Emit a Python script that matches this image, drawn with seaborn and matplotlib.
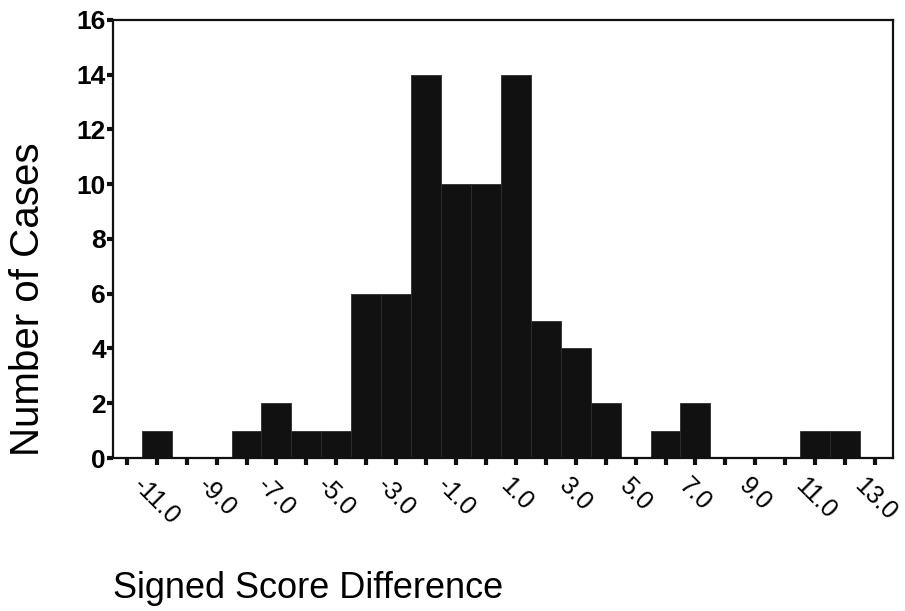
import matplotlib.pyplot as plt
import pandas as pd
import seaborn as sns

# histogram counts, one bin per integer score difference
score_diff = [-11, -10, -9, -8, -7, -6, -5, -4, -3, -2, -1, 0,
              1, 2, 3, 4, 5, 6, 7, 8, 9, 10, 11, 12]
n_cases = [1, 0, 0, 1, 2, 1, 1, 6, 6, 14, 10, 10,
           14, 5, 4, 2, 0, 1, 2, 0, 0, 0, 1, 1]

label_ticks = [-11, -9, -7, -5, -3, -1, 1, 3, 5, 7, 9, 11, 13]
tick_labels = ["-11.0", "-9.0", "-7.0", "-5.0", "-3.0", "-1.0", "1.0",
               "3.0", "5.0", "7.0", "9.0", "11.0", "13.0"]
y_ticks = [0, 2, 4, 6, 8, 10, 12, 14, 16]

sns.set_style("ticks")
plt.rcParams["font.family"] = ["Liberation Sans", "DejaVu Sans"]
plt.rcParams["text.color"] = "black"
plt.rcParams["xtick.color"] = "black"
plt.rcParams["ytick.color"] = "black"

df = pd.DataFrame({"diff": score_diff, "n": n_cases})

fig = plt.figure(figsize=(9.05, 6.11), dpi=100)
ax = fig.add_axes([0.1249, 0.2504, 0.8618, 0.7169])

sns.histplot(
    data=df,
    x="diff",
    weights="n",
    discrete=True,
    color="#111111",
    edgecolor="#2e2e2e",
    linewidth=0.6,
    alpha=1,
    ax=ax,
)

ax.set_xlim(-12.46, 13.6)
ax.set_ylim(0, 16)

# ticks at every integer, labels only at odd values
all_ticks = list(range(-12, 14))
lookup = dict(zip(label_ticks, tick_labels))
ax.set_xticks(all_ticks)
ax.set_xticklabels([lookup.get(t, "") for t in all_ticks],
                   rotation=-45, ha="center", va="top", fontsize=18)
ax.set_yticks(y_ticks)
ax.set_yticklabels([str(v) for v in y_ticks], fontsize=19, fontweight="bold")

ax.tick_params(axis="x", direction="out", length=5, width=3, pad=6, color="#111111")
ax.tick_params(axis="y", direction="out", length=4, width=3, pad=1, color="#111111")

for side in ["left", "right", "top", "bottom"]:
    ax.spines[side].set_visible(True)
    ax.spines[side].set_linewidth(1.6)
    ax.spines[side].set_color("#111111")

ax.set_xlabel("")
ax.set_ylabel("")
fig.text(28 / 905, 0.51, "Number of Cases", rotation=90,
         ha="center", va="center", fontsize=29)
fig.text(113 / 905, 1 - 598 / 611, "Signed Score Difference",
         ha="left", va="baseline", fontsize=26)

fig.savefig("out.png", dpi=100)
plt.close(fig)
